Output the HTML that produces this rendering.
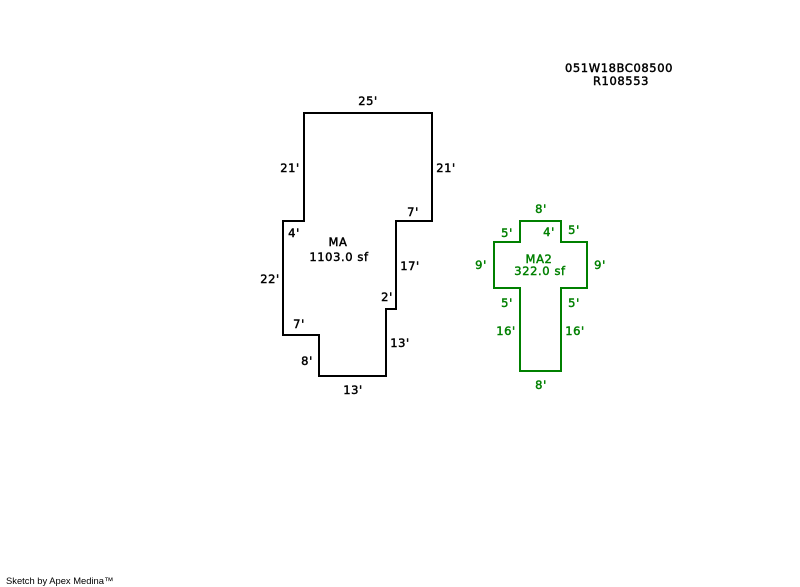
<!DOCTYPE html>
<html>
<head>
<meta charset="utf-8">
<style>
html,body{margin:0;padding:0;background:#fff;width:800px;height:587px;overflow:hidden}
svg{display:block}
text{font-family:"DejaVu Sans","Liberation Sans",sans-serif;font-size:11.5px;letter-spacing:0.6px;text-anchor:middle;stroke-width:0.45px}
.k text{fill:#000;stroke:#000}
.g text{fill:#008000;stroke:#008000}
</style>
</head>
<body>
<svg width="800" height="587" viewBox="0 0 800 587" xmlns="http://www.w3.org/2000/svg">
<polygon points="304,113 432,113 432,221 396,221 396,309 386,309 386,376 319,376 319,335 283,335 283,221 304,221" fill="none" stroke="#000" stroke-width="2"/>
<polygon points="520,221 561,221 561,242 587,242 587,288 561,288 561,371 520,371 520,288 494,288 494,242 520,242" fill="none" stroke="#008000" stroke-width="2"/>
<g class="k">
<text x="368" y="105">25'</text>
<text x="290" y="172">21'</text>
<text x="446" y="172">21'</text>
<text x="413" y="216">7'</text>
<text x="294" y="237">4'</text>
<text x="338" y="246">MA</text>
<text x="339" y="261">1103.0 sf</text>
<text x="410" y="270">17'</text>
<text x="270" y="283">22'</text>
<text x="387" y="301">2'</text>
<text x="299" y="328">7'</text>
<text x="400" y="347">13'</text>
<text x="307" y="365">8'</text>
<text x="353" y="394">13'</text>
</g>
<g class="g">
<text x="541" y="213">8'</text>
<text x="507" y="237">5'</text>
<text x="549" y="236">4'</text>
<text x="574" y="234">5'</text>
<text x="539" y="263">MA2</text>
<text x="540" y="275">322.0 sf</text>
<text x="481" y="269">9'</text>
<text x="600" y="269">9'</text>
<text x="507" y="307">5'</text>
<text x="574" y="307">5'</text>
<text x="506" y="335">16'</text>
<text x="575" y="335">16'</text>
<text x="541" y="389">8'</text>
</g>
<g class="k">
<text x="619" y="72">051W18BC08500</text>
<text x="621" y="85">R108553</text>
</g>
<text x="6" y="584" style="font-family:'Liberation Sans',sans-serif;font-size:9.4px;letter-spacing:0;text-anchor:start;fill:#000;stroke:none">Sketch by Apex Medina™</text>
</svg>
</body>
</html>
